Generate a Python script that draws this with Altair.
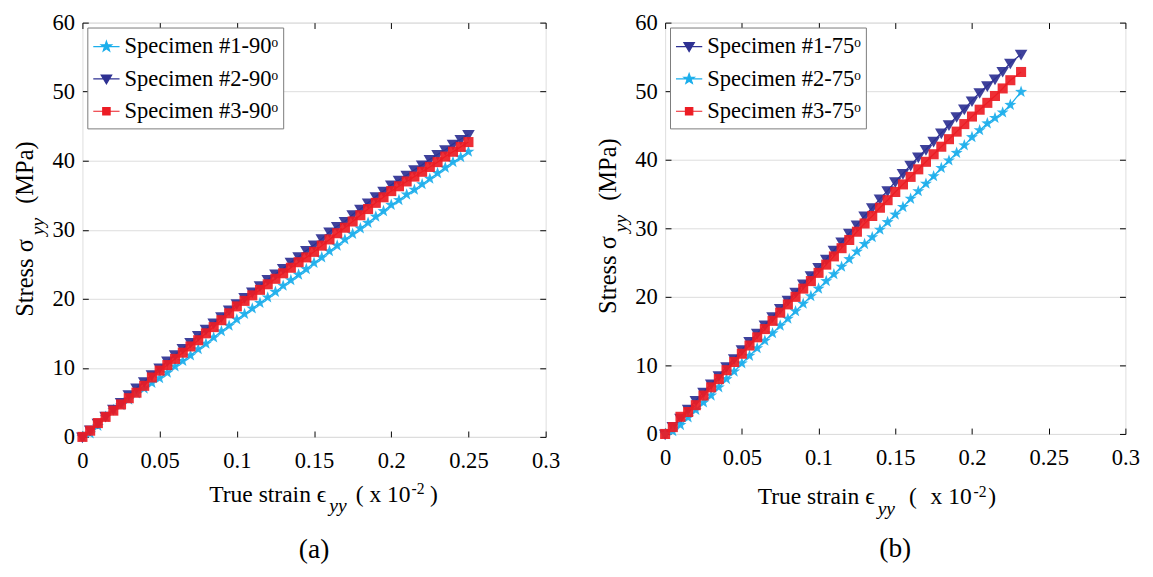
import altair as alt
import pandas as pd

FONT = "Liberation Serif"

# ---------------- data ----------------
strain_a = [0.000, 0.005, 0.010, 0.015, 0.020, 0.025, 0.030, 0.035, 0.040, 0.045,
            0.050, 0.055, 0.060, 0.065, 0.070, 0.075, 0.080, 0.085, 0.090, 0.095,
            0.100, 0.105, 0.110, 0.115, 0.120, 0.125, 0.130, 0.135, 0.140, 0.145,
            0.150, 0.155, 0.160, 0.165, 0.170, 0.175, 0.180, 0.185, 0.190, 0.195,
            0.200, 0.205, 0.210, 0.215, 0.220, 0.225, 0.230, 0.235, 0.240, 0.245,
            0.250]
a_spec1 = [0.0, 0.5, 1.6, 2.9, 3.9, 4.6, 5.4, 6.3, 7.0, 7.8,
           8.5, 9.3, 10.2, 11.0, 11.8, 12.7, 13.5, 14.4, 15.3, 16.1,
           17.0, 17.8, 18.6, 19.4, 20.2, 21.0, 21.9, 22.7, 23.5, 24.3,
           25.2, 26.0, 26.9, 27.7, 28.6, 29.4, 30.2, 31.0, 31.9, 32.7,
           33.6, 34.3, 35.1, 35.8, 36.6, 37.4, 38.2, 39.0, 39.8, 40.5,
           41.3]
a_spec2 = [0.0, 1.0, 2.0, 3.0, 4.0, 5.0, 6.1, 7.1, 8.0, 9.0,
           10.0, 11.0, 11.9, 12.8, 13.7, 14.7, 15.6, 16.5, 17.4, 18.4,
           19.3, 20.2, 21.0, 21.9, 22.8, 23.6, 24.4, 25.3, 26.1, 27.0,
           27.8, 28.7, 29.7, 30.5, 31.2, 32.2, 33.0, 33.9, 34.8, 35.6,
           36.5, 37.2, 37.9, 38.7, 39.4, 40.2, 40.9, 41.6, 42.4, 43.1,
           43.8]
a_spec3 = [0.0, 0.9, 2.0, 2.9, 3.8, 4.7, 5.6, 6.4, 7.4, 8.6,
           9.6, 10.4, 11.3, 12.2, 13.1, 14.0, 15.0, 15.9, 16.9, 17.9,
           18.9, 19.7, 20.5, 21.3, 22.1, 22.9, 23.7, 24.5, 25.3, 26.0,
           26.8, 27.7, 28.6, 29.5, 30.3, 31.2, 32.1, 33.0, 33.9, 34.7,
           35.6, 36.3, 37.0, 37.7, 38.4, 39.1, 39.8, 40.6, 41.3, 42.0,
           42.7]

strain_b = [0.000, 0.005, 0.010, 0.015, 0.020, 0.025, 0.030, 0.035, 0.040, 0.045,
            0.050, 0.055, 0.060, 0.065, 0.070, 0.075, 0.080, 0.085, 0.090, 0.095,
            0.100, 0.105, 0.110, 0.115, 0.120, 0.125, 0.130, 0.135, 0.140, 0.145,
            0.150, 0.155, 0.160, 0.165, 0.170, 0.175, 0.180, 0.185, 0.190, 0.195,
            0.200, 0.205, 0.210, 0.215, 0.220, 0.225, 0.232]
b_spec1 = [0.0, 1.1, 2.3, 3.6, 4.9, 6.1, 7.3, 8.5, 9.8, 11.0,
           12.3, 13.5, 14.7, 15.9, 17.1, 18.3, 19.5, 20.7, 21.9, 23.1,
           24.3, 25.5, 26.8, 28.0, 29.3, 30.5, 31.8, 33.0, 34.3, 35.5,
           36.8, 38.0, 39.2, 40.4, 41.5, 42.7, 43.9, 45.1, 46.3, 47.4,
           48.6, 49.8, 50.8, 51.8, 52.9, 54.1, 55.4]
b_spec2 = [0.0, 0.4, 1.3, 2.4, 3.5, 4.6, 5.6, 6.8, 8.0, 9.1,
           10.3, 11.4, 12.5, 13.6, 14.7, 15.8, 16.8, 17.9, 19.0, 20.1,
           21.2, 22.3, 23.3, 24.4, 25.5, 26.6, 27.7, 28.7, 29.8, 30.9,
           32.0, 33.1, 34.3, 35.4, 36.5, 37.6, 38.8, 39.9, 41.0, 42.1,
           43.3, 44.3, 45.3, 46.1, 46.9, 48.0, 49.9]
b_spec3 = [0.0, 1.0, 2.5, 3.2, 4.2, 5.6, 6.8, 8.0, 9.3, 10.5,
           11.7, 12.9, 14.1, 15.3, 16.5, 17.7, 18.9, 20.0, 21.2, 22.3,
           23.5, 24.7, 25.9, 27.1, 28.3, 29.5, 30.7, 31.8, 33.0, 34.1,
           35.3, 36.4, 37.5, 38.6, 39.7, 40.8, 41.9, 43.0, 44.1, 45.2,
           46.3, 47.3, 48.3, 49.3, 50.4, 51.6, 52.8]

names_a = ["Specimen #1-90ᵒ", "Specimen #2-90ᵒ", "Specimen #3-90ᵒ"]
names_b = ["Specimen #1-75ᵒ", "Specimen #2-75ᵒ", "Specimen #3-75ᵒ"]

x_ticks = [0, 0.05, 0.1, 0.15, 0.2, 0.25, 0.3]
y_ticks = [0, 10, 20, 30, 40, 50, 60]

# ---------------- styles ----------------
NAVY = "#2E3192"
SKY = "#1BAEEB"
RED = "#EC1C24"

STAR = ("M0,-1L0.235,-0.323L0.951,-0.309L0.38,0.124L0.588,0.809L0,0.4"
        "L-0.588,0.809L-0.38,0.124L-0.951,-0.309L-0.235,-0.323Z")
TRI = "M-1,-0.7L1,-0.7L0,1Z"
SQR = "M-0.8,-0.8H0.8V0.8H-0.8Z"

LSTAR = ("M-1,0H1M0,-0.42L0.1,-0.136L0.4,-0.13L0.16,0.052L0.247,0.34L0,0.168"
         "L-0.247,0.34L-0.16,0.052L-0.4,-0.13L-0.1,-0.136Z")
LTRI = "M-1,0H1M-0.4,-0.3L0.4,-0.3L0,0.38Z"
LSQR = "M-1,0H1M-0.28,-0.28H0.28V0.28H-0.28Z"

shape_of = {"star": STAR, "tri": TRI, "sqr": SQR}
lshape_of = {"star": LSTAR, "tri": LTRI, "sqr": LSQR}


def text_layer(txt, x, y, size=24, angle=0, align="left", baseline="alphabetic", italic=False):
    return alt.Chart(pd.DataFrame({"t": [txt]})).mark_text(
        font=FONT, fontSize=size, angle=angle, align=align, baseline=baseline,
        fontStyle="italic" if italic else "normal", color="black"
    ).encode(text="t:N", x=alt.value(x), y=alt.value(y))


def panel(strain, vals, names, colors, kinds, W, H, label, xt, yt):
    rows = []
    for name, v in zip(names, vals):
        for s, val in zip(strain, v):
            rows.append({"strain": s, "stress": val, "series": name})
    df = pd.DataFrame(rows)

    xs = alt.Scale(domain=[0, 0.3], nice=False, zero=False)
    ys = alt.Scale(domain=[0, 60], nice=False)

    def cscale():
        return alt.Scale(domain=names, range=colors)

    ax_common = dict(domain=False, tickColor="black", tickSize=6, offset=-6,
                     labelFont=FONT, labelFontSize=23, labelColor="black", title=None,
                     labelFlush=False)

    base = alt.Chart(df)
    lines = base.mark_line(strokeWidth=1.3).encode(
        x=alt.X("strain:Q", scale=xs,
                axis=alt.Axis(orient="bottom", values=x_ticks, format="~g", grid=False,
                              labelPadding=13, **ax_common)),
        y=alt.Y("stress:Q", scale=ys,
                axis=alt.Axis(orient="left", values=y_ticks, format="d", grid=True,
                              gridColor="#dcdcdc", gridWidth=1, labelPadding=8, **ax_common)),
        color=alt.Color("series:N", scale=cscale(), legend=None),
    )
    pts = base.mark_point(filled=True, size=165, opacity=0.92).encode(
        x=alt.X("strain:Q", scale=xs,
                axis=alt.Axis(orient="top", values=x_ticks, labels=False, grid=False,
                              domain=False, tickColor="black", tickSize=6, offset=-6, title=None)),
        y=alt.Y("stress:Q", scale=ys,
                axis=alt.Axis(orient="right", values=y_ticks, labels=False, grid=False,
                              domain=False, tickColor="black", tickSize=6, offset=-6, title=None)),
        color=alt.Color("series:N", scale=cscale(), legend=None),
        shape=alt.Shape("series:N", scale=alt.Scale(domain=names, range=[shape_of[k] for k in kinds]),
                        legend=None),
    )
    leg = alt.Legend(orient="top-left", offset=5, title=None, padding=5,
                     strokeColor="#7a7a7a", fillColor="white",
                     labelFont=FONT, labelFontSize=23, labelColor="black", labelOffset=4,
                     symbolSize=720, symbolStrokeWidth=1.2, rowPadding=6)
    legend_layer = base.transform_filter("false").mark_point(filled=True, opacity=1).encode(
        x=alt.X("strain:Q", scale=xs, axis=None),
        y=alt.Y("stress:Q", scale=ys, axis=None),
        color=alt.Color("series:N", scale=cscale(), legend=leg),
        stroke=alt.Stroke("series:N", scale=cscale(), legend=leg),
        shape=alt.Shape("series:N", scale=alt.Scale(domain=names, range=[lshape_of[k] for k in kinds]),
                        legend=leg),
    )

    texts = [
        # x title
        text_layer("True strain ϵ", xt[0], xt[5], align="right"),
        text_layer("yy", xt[0] + 3, xt[5] + 11, size=20, italic=True),
        text_layer("(", xt[1], xt[5]),
        text_layer("x 10", xt[2], xt[5], align="right"),
        text_layer("-2", xt[3], xt[5] - 8, size=16),
        text_layer(")", xt[4], xt[5]),
        # y title (rotated)
        text_layer("Stress σ", -50, yt[0], size=25, angle=270, align="right"),
        text_layer("yy", -39, yt[0] - 4, size=20, angle=270, italic=True),
        text_layer("(MPa)", -50, yt[1], size=25, angle=270),
        # panel label
        text_layer(label, W / 2, xt[6], size=28, align="center"),
    ]

    return alt.layer(lines, pts, legend_layer, *texts).resolve_scale(
        color="independent", shape="independent", stroke="independent"
    ).resolve_axis(x="independent", y="independent").properties(width=W, height=H)


pa = panel(strain_a, [a_spec1, a_spec2, a_spec3], names_a, [SKY, NAVY, RED],
           ["star", "tri", "sqr"], 473, 423, "(a)",
           xt=[249, 279, 335, 336, 355, 489, 547], yt=[221, 185])
pb = panel(strain_b, [b_spec1, b_spec2, b_spec3], names_b, [NAVY, SKY, RED],
           ["tri", "star", "sqr"], 470, 420, "(b)",
           xt=[214, 249, 313, 315, 330, 492, 546], yt=[218, 182])

chart = alt.hconcat(pa, pb, spacing=36).properties(
    padding={"left": 5, "top": -3, "right": 5, "bottom": 0}
).configure_view(stroke="black", strokeWidth=1).configure(background="white")

chart.save("out.html", embed_options={"renderer": "svg", "actions": False})
